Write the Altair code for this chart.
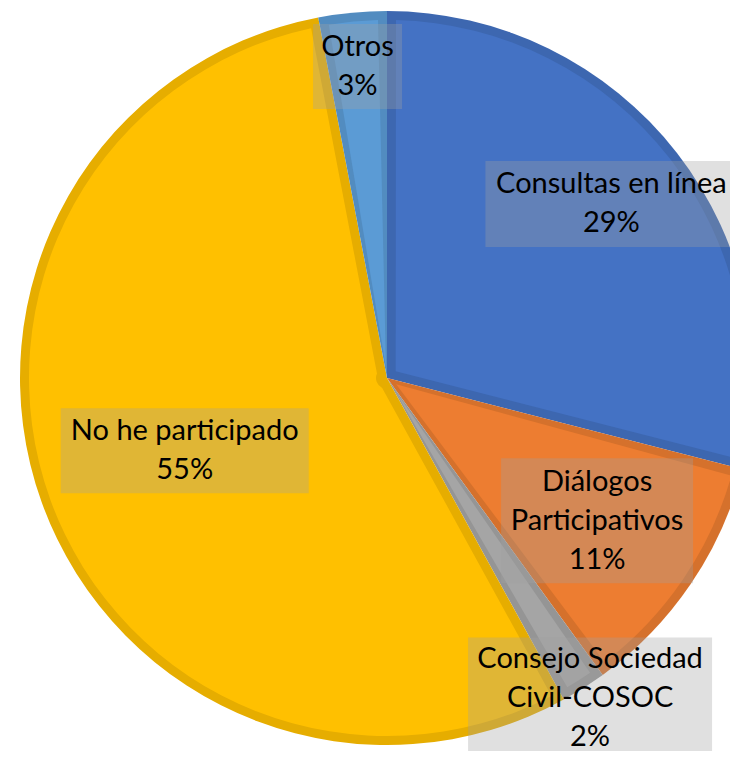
import altair as alt
import pandas as pd

# ---- data ----
categories = ["Consultas en línea", "Diálogos\nParticipativos", "Consejo Sociedad\nCivil-COSOC",
              "No he participado", "Otros"]
values = [29, 11, 2, 55, 3]

# ---- styling / layout ----
fill_colors = ["#4472C4", "#ED7D31", "#A5A5A5", "#FFC000", "#5B9BD5"]
edge_colors = ["#3D67B0", "#D5712C", "#959595", "#E6AD00", "#528CC0"]
label_radius = [284, 254, 379, 215, 313]
box_w = [252, 192, 244, 248, 89]
box_h = [86, 125, 121, 85, 85]

CX, CY, R = 379, 370, 367
BORDER = 9
LH = 39

df = pd.DataFrame({
    "cat": categories,
    "v": values,
    "ord": list(range(len(categories))),
    "lines": [c.split("\n") + [f"{v}%"] for c, v in zip(categories, values)],
    "lr": label_radius,
    "bw": box_w,
    "bh": box_h,
})
df["nl"] = df["lines"].apply(len)

color_dark = alt.Color("cat:N", scale=alt.Scale(domain=categories, range=edge_colors), legend=None)
color_light = alt.Color("cat:N", scale=alt.Scale(domain=categories, range=fill_colors), legend=None)

base = alt.Chart(df)

theta = alt.Theta("v:Q", stack=True)
order = alt.Order("ord:Q")

dark = base.mark_arc(stroke=None).encode(
    theta=theta, order=order, color=color_dark,
    x=alt.value(CX), y=alt.value(CY), radius=alt.value(R),
)

rp = (R - BORDER)
pad = 2 * BORDER / rp
light = base.mark_arc(stroke=None, padAngle=pad).encode(
    theta=theta, order=order, color=color_light,
    x=alt.value(CX), y=alt.value(CY), radius=alt.value(R - BORDER), radius2=alt.value(11),
)

pie = alt.layer(dark, light).resolve_scale(color="independent")

lab = base.transform_joinaggregate(total="sum(v)").transform_window(
    cum="sum(v)", sort=[alt.SortField("ord")], frame=[None, 0]
).transform_calculate(
    mid="(datum.cum - datum.v/2)/datum.total*2*PI",
).transform_calculate(
    lx=f"{CX} + datum.lr*sin(datum.mid)",
    ly=f"{CY} - datum.lr*cos(datum.mid)",
).transform_calculate(
    ty=f"datum.ly - (datum.nl - 1)*{LH}/2",
    bx0="datum.lx - datum.bw/2", bx1="datum.lx + datum.bw/2",
    by0="datum.ly - datum.bh/2", by1="datum.ly + datum.bh/2",
)

boxes = lab.mark_rect(color="#A0A0A0", opacity=0.33).encode(
    x=alt.X("bx0:Q", scale=None, axis=None), x2="bx1:Q",
    y=alt.Y("by0:Q", scale=None, axis=None), y2="by1:Q",
)

texts = lab.mark_text(font="Lato", fontSize=29, color="#000000", lineHeight=LH,
                      baseline="middle", align="center").encode(
    x=alt.X("lx:Q", scale=None, axis=None),
    y=alt.Y("ty:Q", scale=None, axis=None),
    text="lines",
)

chart = alt.layer(pie, boxes, texts).resolve_scale(color="independent").properties(
    width=722, height=743, autosize=alt.AutoSizeParams(type="none"), padding=0,
).configure_view(stroke=None)

chart.save("out.html", embed_options={"renderer": "svg", "actions": False})
